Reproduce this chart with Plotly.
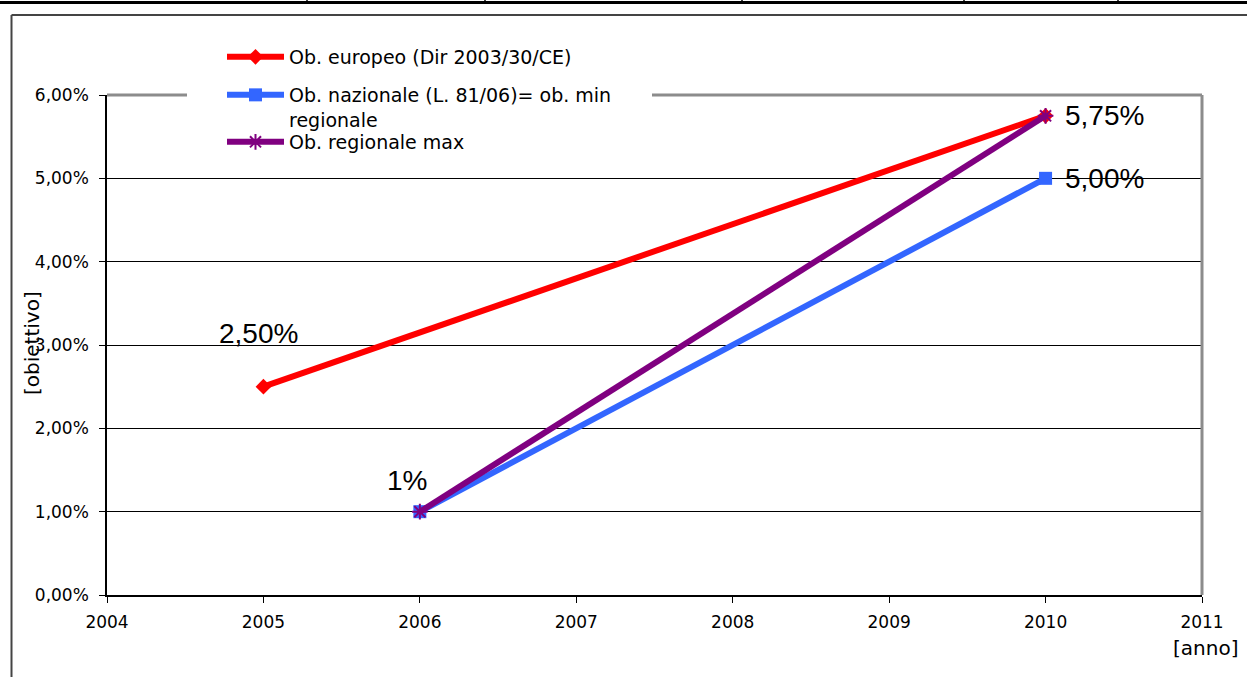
import plotly.graph_objects as go

# Obiettivi di immissione biocarburanti (% sul totale carburanti)
years_eu = [2005, 2010]
target_eu = [0.025, 0.0575]

years_naz = [2006, 2010]
target_naz = [0.01, 0.05]

years_reg_max = [2006, 2010]
target_reg_max = [0.01, 0.0575]

series_names = [
    "Ob. europeo (Dir 2003/30/CE)",
    "Ob. nazionale (L. 81/06)= ob. min<br>regionale",
    "Ob. regionale max",
]

x_ticks = [2004, 2005, 2006, 2007, 2008, 2009, 2010, 2011]
y_ticks = [0.0, 0.01, 0.02, 0.03, 0.04, 0.05, 0.06]

W, H = 1247, 677
L, R, T, B = 107, 45, 95, 82
PW, PH = W - L - R, H - T - B


def px(x):
    return (x - L) / PW


def py(y):
    return (H - B - y) / PH


RED = "#FF0000"
BLUE = "#3366FF"
PURPLE = "#800080"
FONT = "DejaVu Sans"

fig = go.Figure()

fig.add_trace(go.Scatter(
    x=years_eu, y=target_eu, name=series_names[0], mode="lines+markers",
    line=dict(color=RED, width=6),
    marker=dict(symbol="diamond", size=12, color=RED),
    legend="legend",
))
fig.add_trace(go.Scatter(
    x=years_naz, y=target_naz, name=series_names[1], mode="lines+markers",
    line=dict(color=BLUE, width=6),
    marker=dict(symbol="square", size=13, color=BLUE),
    legend="legend2",
))
fig.add_trace(go.Scatter(
    x=years_reg_max, y=target_reg_max, name=series_names[2], mode="lines+markers",
    line=dict(color=PURPLE, width=6),
    marker=dict(symbol="asterisk-open", size=13, color=PURPLE,
                line=dict(color=PURPLE, width=2)),
    legend="legend3",
))


def pct(v, dec=2):
    return (f"{v * 100:.{dec}f}%").replace(".", ",")


label_font = dict(family="Liberation Sans, Arial", size=28, color="black")
annotations = [
    dict(x=years_eu[0], y=target_eu[0], text=pct(target_eu[0]),
         xanchor="center", yanchor="bottom", xshift=-5, yshift=36),
    dict(x=years_naz[0], y=target_naz[0], text=pct(target_naz[0], 0),
         xanchor="center", yanchor="bottom", xshift=-13, yshift=14),
    dict(x=years_eu[1], y=target_eu[1], text=pct(target_eu[1]),
         xanchor="left", yanchor="middle", xshift=17),
    dict(x=years_naz[1], y=target_naz[1], text=pct(target_naz[1]),
         xanchor="left", yanchor="middle", xshift=17),
]
for a in annotations:
    a.update(xref="x", yref="y", showarrow=False, font=label_font)

annotations += [
    dict(xref="paper", yref="paper", x=px(32), y=py(343), text="[obiettivo]",
         textangle=-90, showarrow=False, xanchor="center", yanchor="middle",
         font=dict(family=FONT, size=20, color="black")),
    dict(xref="paper", yref="paper", x=px(1205), y=py(648), text="[anno]",
         showarrow=False, xanchor="center", yanchor="middle",
         font=dict(family=FONT, size=20, color="black")),
]

shapes = []
# plot-area border (grey, open where the legend sits)
border = dict(type="line", xref="paper", yref="paper", layer="above",
              line=dict(color="#8C8C8C", width=3))
shapes.append(dict(border, x0=0, x1=px(187), y0=1, y1=1))
shapes.append(dict(border, x0=px(652), x1=1, y0=1, y1=1))
shapes.append(dict(border, x0=1, x1=1, y0=0, y1=1))
# white gap in the top edge behind the legend
shapes.append(dict(type="rect", xref="paper", yref="paper", layer="above",
                   x0=px(187), x1=px(652), y0=py(98), y1=py(92),
                   fillcolor="white", line=dict(width=0)))
# outer chart frame
frame = dict(type="line", xref="paper", yref="paper",
             line=dict(color="#444444", width=2))
shapes.append(dict(frame, x0=px(11.5), x1=px(1260), y0=py(15), y1=py(15)))
shapes.append(dict(frame, x0=px(11.5), x1=px(11.5), y0=py(15), y1=py(690)))
# table rule above the chart
rule = dict(type="line", xref="paper", yref="paper",
            line=dict(color="black", width=3))
shapes.append(dict(rule, x0=px(-5), x1=px(1260), y0=py(2.5), y1=py(2.5)))
for cx in [307, 485, 742, 964, 1118]:
    shapes.append(dict(type="line", xref="paper", yref="paper",
                       x0=px(cx), x1=px(cx), y0=py(-2), y1=py(3),
                       line=dict(color="black", width=1.5)))

tick_font = dict(family=FONT, size=17, color="black")
legend_common = dict(
    xanchor="left", yanchor="middle", bgcolor="rgba(0,0,0,0)",
    font=dict(family=FONT, size=19, color="black"),
    borderwidth=0, itemwidth=57, itemclick=False,
)

fig.update_layout(
    width=W, height=H,
    margin=dict(l=L, r=R, t=T, b=B, pad=0),
    paper_bgcolor="white", plot_bgcolor="white",
    separators=",.",
    showlegend=True,
    legend=dict(legend_common, x=px(222), y=py(57)),
    legend2=dict(legend_common, x=px(222), y=py(76), yanchor="top", valign="top"),
    legend3=dict(legend_common, x=px(222), y=py(142)),
    xaxis=dict(
        range=[2004, 2011], tickvals=x_ticks, ticktext=[str(v) for v in x_ticks],
        showgrid=False, zeroline=False,
        showline=True, linecolor="black", linewidth=1.5,
        ticks="outside", ticklen=6, tickcolor="black", tickwidth=1,
        tickfont=tick_font, ticklabelstandoff=5,
    ),
    yaxis=dict(
        range=[0, 0.06], tickvals=y_ticks, tickformat=".2%",
        showgrid=True, gridcolor="black", gridwidth=1,
        zeroline=False,
        showline=True, linecolor="black", linewidth=1.5,
        ticks="outside", ticklen=6, tickcolor="black", tickwidth=1,
        tickfont=tick_font, ticklabelstandoff=7,
    ),
    annotations=annotations,
    shapes=shapes,
)

fig.write_html("out.html")
